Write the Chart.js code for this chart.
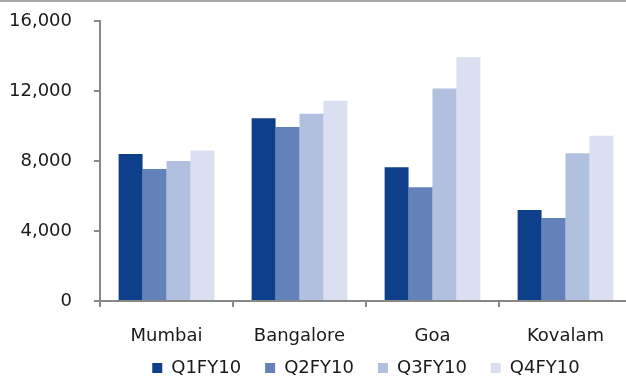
<!DOCTYPE html>
<html>
<head>
<meta charset="utf-8">
<script src="https://cdn.jsdelivr.net/npm/chart.js@4.4.1/dist/chart.umd.min.js"></script>
<style>
  html, body { margin: 0; padding: 0; background: #fff; }
  #wrap { position: relative; width: 626px; height: 376px; overflow: hidden; }
  #wrap:before { content: ""; position: absolute; left: 0; top: 0; width: 626px; height: 2px; background: #a6a6a6; z-index: 2; }
  #box { position: absolute; left: 0; top: 0; width: 640px; height: 390px; }
</style>
</head>
<body>
<div id="wrap">
  <div id="box"><canvas id="chart"></canvas></div>
</div>
<script>
var labels = ["Mumbai", "Bangalore", "Goa", "Kovalam"];

var q1 = [8400, 10450, 7650, 5200];
var q2 = [7550, 9950, 6500, 4750];
var q3 = [8000, 10700, 12150, 8450];
var q4 = [8600, 11450, 13950, 9450];

var yTicks = [0, 4000, 8000, 12000, 16000];

Chart.defaults.font.family = "'DejaVu Sans', sans-serif";
Chart.defaults.font.size = 18;
Chart.defaults.color = "#1a1a1a";

var ctx = document.getElementById("chart");
var data = {
  labels: labels,
  datasets: [
    { label: "Q1FY10", backgroundColor: "#0e3f8a", data: q1 },
    { label: "Q2FY10", backgroundColor: "#6482ba", data: q2 },
    { label: "Q3FY10", backgroundColor: "#b0c0de", data: q3 },
    { label: "Q4FY10", backgroundColor: "#dae0f2", data: q4 },
  ],
};

var myChart = new Chart(ctx, {
  type: "bar",
  data: data,
  options: {
    responsive: true,
    maintainAspectRatio: false,
    animation: false,
    layout: { padding: { top: 21, left: 0, right: 8, bottom: 3 } },
    datasets: {
      bar: { categoryPercentage: 0.72, barPercentage: 1 },
    },
    plugins: {
      tooltip: { enabled: false },
      legend: {
        position: "bottom",
        fullSize: false,
        labels: {
          boxWidth: 10,
          boxHeight: 10,
          padding: 24,
          color: "#1a1a1a",
        },
      },
    },
    scales: {
      x: {
        grid: {
          offset: true,
          drawOnChartArea: false,
          drawTicks: true,
          tickLength: 6,
          color: "#888",
          lineWidth: 2,
        },
        border: { display: true, color: "#888", width: 2 },
        ticks: { padding: 19 },
        afterFit: function (scale) {
          scale.height = 34;
          // labels hang below the short box, so don't clip them to it
          scale._computeLabelArea = function () {};
        },
      },
      y: {
        min: 0,
        max: 16000,
        afterBuildTicks: function (scale) {
          scale.ticks = yTicks.map(function (v) { return { value: v }; });
        },
        grid: {
          drawOnChartArea: false,
          drawTicks: true,
          tickLength: 6,
          color: "#888",
          lineWidth: 2,
        },
        border: { display: true, color: "#888", width: 2 },
        ticks: { padding: 22 },
        afterFit: function (scale) {
          scale.width = 100;
          scale.paddingTop = 0;
          scale.paddingBottom = 0;
        },
      },
    },
  },
});
</script>
</body>
</html>
